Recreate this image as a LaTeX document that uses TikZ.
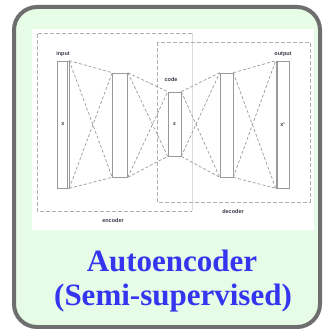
\documentclass[tikz,border=0pt]{standalone}
\usepackage{fontspec}
\setmainfont{Liberation Serif}
\newfontfamily\labelfont{Liberation Sans}
\definecolor{panelgreen}{HTML}{E6FCE6}
\definecolor{rimgray}{HTML}{6E6E6E}
\definecolor{titleblue}{HTML}{3535F0}
\definecolor{linegray}{HTML}{9A9A9A}
\definecolor{labelink}{HTML}{3A3A4A}
\begin{document}
\begin{tikzpicture}[x=1pt,y=-1pt,
  layer/.style={draw=linegray,line width=0.6pt,fill=white},
  link/.style={draw=linegray,line width=0.7pt,dash pattern=on 3pt off 2pt},
  groupbox/.style={draw=linegray!80,line width=0.6pt,dash pattern=on 4pt off 2pt},
  tag/.style={font=\labelfont\fontsize{5.5}{6}\selectfont\bfseries,text=labelink,inner sep=0pt},
  title/.style={font=\fontsize{31}{34}\selectfont\bfseries,text=titleblue,inner sep=0pt}]
\useasboundingbox (0,0) rectangle (322,329);
% card
\fill[white] (0,0) rectangle (322,329);
\draw[rimgray,line width=4pt,fill=panelgreen,rounded corners=23pt] (14,7) rectangle (320,327);
% white diagram panel
\fill[white] (32,29) rectangle (314,230);
% encoder and decoder groups
\draw[groupbox] (192,33) -- (37,33) -- (37,211) -- (192,211);
\draw[linegray!35,line width=0.5pt] (192,33) -- (192,211);
\draw[groupbox] (157,42) rectangle (310,202);
\node[tag] (enc) at (113,221) {encoder};
\node[tag] (dec) at (233,212) {decoder};
% layers
\node[layer,minimum width=12pt,minimum height=127pt,inner sep=0pt] (in) at (63,124.5) {};
\node[layer,minimum width=15pt,minimum height=104pt,inner sep=0pt] (h1) at (120,125) {};
\node[layer,minimum width=13pt,minimum height=64pt,inner sep=0pt] (code) at (174.5,124) {};
\node[layer,minimum width=13pt,minimum height=104pt,inner sep=0pt] (h2) at (226.5,125) {};
\node[layer,minimum width=13pt,minimum height=127pt,inner sep=0pt] (out) at (282.5,124.5) {};
\draw[linegray,line width=0.8pt] ([xshift=-1.5pt]in.north east) -- ([xshift=-1.5pt]in.south east);
\draw[linegray,line width=0.8pt] ([xshift=1.5pt]out.north west) -- ([xshift=1.5pt]out.south west);
\node[tag] at (in) {x};
\node[tag] at (code) {z};
\node[tag] at (out) {x'};
\node[tag] (inlab) at (63,54) {input};
\node[tag] (codelab) at (171,80) {code};
\node[tag] (outlab) at (283,54) {output};
% fully connected links between consecutive layers
\foreach \a/\b in {in/h1,h1/code,code/h2,h2/out}{
  \draw[link] (\a.north east) -- (\b.north west);
  \draw[link] (\a.south east) -- (\b.south west);
  \draw[link] (\a.north east) -- (\b.south west);
  \draw[link] (\a.south east) -- (\b.north west);
}
% caption
\node[title] (t1) at (172,261) {Autoencoder};
\node[title] (t2) at (173,298) {(Semi-supervised)};
\end{tikzpicture}
\end{document}
